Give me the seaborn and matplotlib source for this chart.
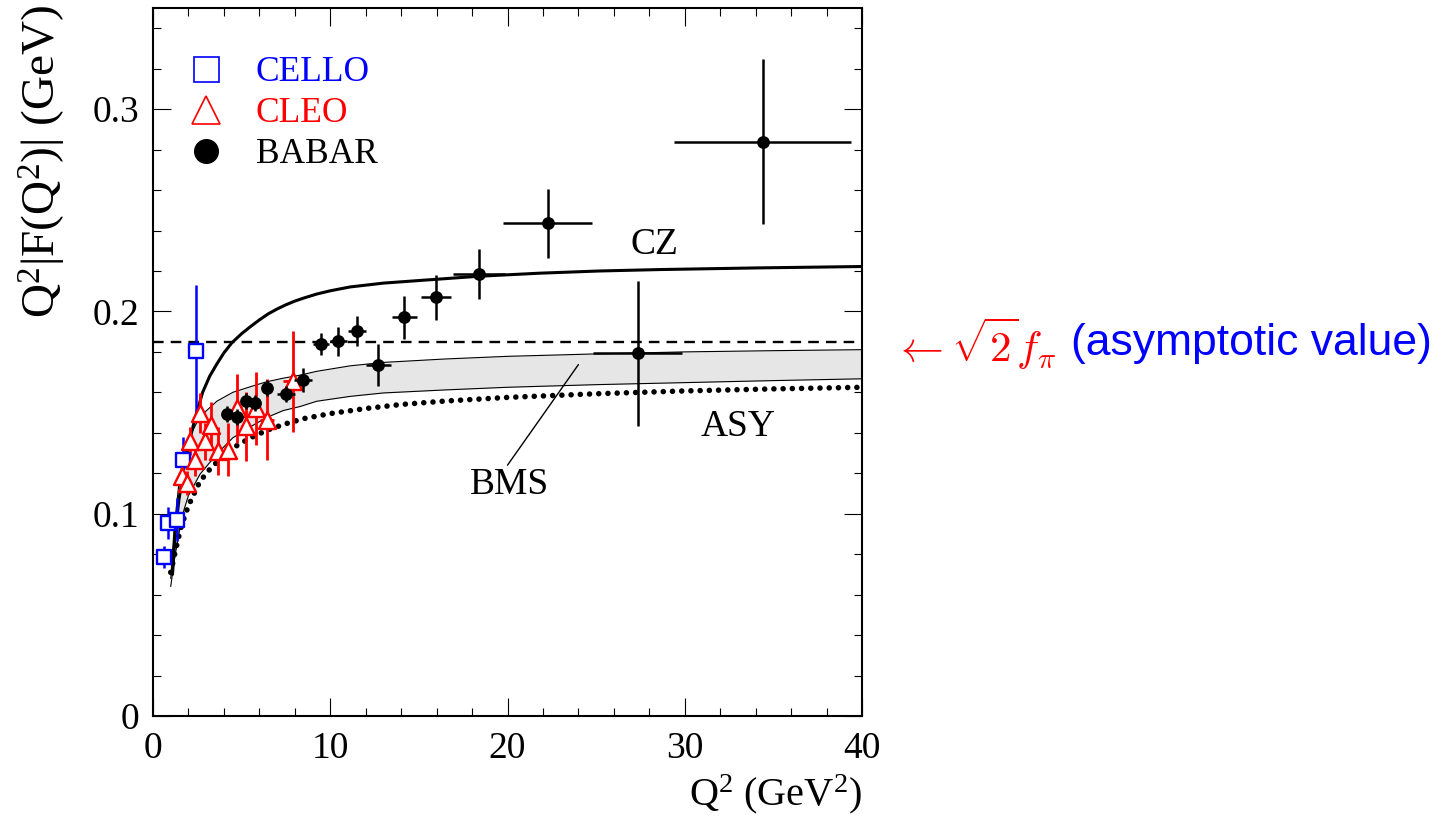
import matplotlib
matplotlib.use("Agg")
import numpy as np
import pandas as pd
import matplotlib.pyplot as plt
from matplotlib.lines import Line2D
from matplotlib.ticker import MultipleLocator
import seaborn as sns

# ---- measurements -------------------------------------------------------
cello_q2 = [0.62, 0.87, 1.34, 1.71, 2.41]
cello_f = [0.0785, 0.0955, 0.0971, 0.1268, 0.1806]
cello_err = [0.0054, 0.0078, 0.0107, 0.0110, 0.0325]

cleo_q2 = [1.62, 1.90, 2.09, 2.37, 2.65, 2.93, 3.27, 3.69, 4.25, 4.76, 5.23, 5.81, 6.45, 7.92]
cleo_f = [0.1185, 0.1152, 0.1358, 0.1267, 0.1498, 0.1358, 0.1440, 0.1309, 0.1317,
          0.1522, 0.1432, 0.1522, 0.1465, 0.1654]
cleo_err = [0.006, 0.006, 0.007, 0.008, 0.010, 0.009, 0.011, 0.012, 0.013,
            0.017, 0.017, 0.018, 0.020, 0.025]
cleo_xerr = [0.12, 0.12, 0.12, 0.12, 0.12, 0.12, 0.15, 0.2, 0.25, 0.25, 0.25, 0.25, 0.4, 0.6]

babar_q2 = [4.16, 4.76, 5.23, 5.76, 6.45, 7.49, 8.45, 9.48, 10.46, 11.50, 12.71, 14.18,
            15.95, 18.41, 22.27, 27.35, 34.39]
babar_f = [0.1493, 0.1480, 0.1559, 0.1547, 0.1622, 0.1590, 0.1660, 0.1839, 0.1852,
           0.1905, 0.1737, 0.1970, 0.2069, 0.2186, 0.2436, 0.1794, 0.2840]
babar_err = [0.004, 0.004, 0.004, 0.004, 0.004, 0.004, 0.006, 0.0055, 0.007, 0.0074,
             0.0104, 0.0107, 0.0109, 0.0124, 0.0170, 0.0358, 0.0410]
babar_xerr = [0.25, 0.25, 0.25, 0.25, 0.25, 0.5, 0.5, 0.45, 0.5, 0.5, 0.7, 0.7,
              0.85, 1.46, 2.5, 2.5, 5.0]

# ---- theory curves ------------------------------------------------------
cz_q2 = [1.1, 1.25, 1.45, 1.71, 2.0, 2.37, 2.8, 3.2, 3.6, 4.0, 4.44, 5.0, 5.5, 6.0,
         6.5, 7.0, 7.5, 8.0, 8.5, 9.24, 10.0, 11.12, 13.0, 14.9, 16.8, 18.4, 21.8,
         25.2, 28.6, 34.0, 40.0]
cz_f = [0.070, 0.090, 0.106, 0.121, 0.134, 0.147, 0.160, 0.168, 0.174, 0.1795,
        0.1844, 0.1890, 0.1925, 0.1958, 0.1988, 0.2012, 0.2033, 0.2051, 0.2066,
        0.2086, 0.2102, 0.2121, 0.2140, 0.2152, 0.2164, 0.2174, 0.2189, 0.2200,
        0.2207, 0.2215, 0.2222]

bms_q2 = [1.0, 1.2, 1.5, 1.75, 2.0, 2.65, 3.6, 4.5, 5.5, 6.4, 7.35, 8.3, 9.24, 11.12,
          13.0, 16.5, 20.0, 25.0, 30.0, 35.0, 40.0]
bms_upper = [0.068, 0.094, 0.118, 0.129, 0.137, 0.148, 0.1556, 0.160, 0.1628, 0.1652,
             0.1670, 0.1685, 0.1704, 0.1731, 0.1748, 0.1765, 0.1778, 0.1790, 0.1800,
             0.1806, 0.1811]
bms_lower = [0.064, 0.077, 0.092, 0.102, 0.109, 0.1195, 0.1295, 0.1375, 0.1430, 0.1475,
             0.1510, 0.1530, 0.1556, 0.1580, 0.1597, 0.1612, 0.1625, 0.1638, 0.1648,
             0.1658, 0.1667]

asy_q2 = [1.0, 1.3, 1.6, 2.0, 2.65, 3.3, 4.5, 5.5, 6.5, 7.5, 8.5, 10.0, 12.0, 14.0,
          16.5, 20.0, 25.0, 30.0, 35.0, 40.0]
asy_f = [0.071, 0.083, 0.094, 0.104, 0.116, 0.123, 0.1325, 0.1375, 0.1415, 0.1445,
         0.1470, 0.1495, 0.1520, 0.1540, 0.1557, 0.1575, 0.1593, 0.1607, 0.1617, 0.1625]

asymptotic_value = 0.185

x_ticks = [0, 10, 20, 30, 40]
x_tick_labels = ["0", "10", "20", "30", "40"]
y_ticks = [0.0, 0.1, 0.2, 0.3]
y_tick_labels = ["0", "0.1", "0.2", "0.3"]

# ---- style --------------------------------------------------------------
sns.set_theme(style="ticks")
plt.rcParams["font.family"] = ["Liberation Serif", "DejaVu Serif"]
plt.rcParams["mathtext.fontset"] = "custom"
plt.rcParams["mathtext.rm"] = "Liberation Serif"
plt.rcParams["mathtext.it"] = "Liberation Serif:italic"
plt.rcParams["axes.edgecolor"] = "black"
plt.rcParams["text.color"] = "black"
plt.rcParams["axes.labelcolor"] = "black"
plt.rcParams["xtick.color"] = "black"
plt.rcParams["ytick.color"] = "black"

W, H = 1444, 833
fig = plt.figure(figsize=(W / 100, H / 100), dpi=100)
fig.patch.set_facecolor("white")
ax = fig.add_axes([153 / W, 1 - 716 / H, (862 - 153) / W, (716 - 8) / H])
ax.set_facecolor("white")

# BMS band
ax.fill_between(bms_q2, bms_lower, bms_upper, color="#e6e6e6", lw=0, zorder=1)
sns.lineplot(x=bms_q2, y=bms_upper, ax=ax, color="black", linewidth=0.8,
             sort=False, estimator=None, zorder=2)
sns.lineplot(x=bms_q2, y=bms_lower, ax=ax, color="black", linewidth=0.8,
             sort=False, estimator=None, zorder=2)

# CZ and ASY
sns.lineplot(x=cz_q2, y=cz_f, ax=ax, color="black", linewidth=2.2,
             sort=False, estimator=None, zorder=3)
sns.lineplot(x=asy_q2, y=asy_f, ax=ax, color="black", linewidth=4.0,
             linestyle=(0, (0.01, 1.65)), dash_capstyle="round",
             sort=False, estimator=None, zorder=3)

ax.axhline(asymptotic_value, color="black", linewidth=1.7,
           linestyle=(0, (4.5, 3.0)), zorder=3)

# data: CELLO
ax.errorbar(cello_q2, cello_f, yerr=cello_err, fmt="none", ecolor="blue",
            elinewidth=1.8, capsize=0, zorder=5)
sns.scatterplot(x=cello_q2, y=cello_f, ax=ax, marker="s", s=105, color="white",
                edgecolor="blue", linewidth=1.7, zorder=6)

# data: CLEO
ax.errorbar(cleo_q2, cleo_f, yerr=cleo_err, xerr=cleo_xerr, fmt="none", ecolor="red",
            elinewidth=2.0, capsize=0, zorder=5)
sns.scatterplot(x=cleo_q2, y=cleo_f, ax=ax, marker="^", s=150, color="white",
                edgecolor="red", linewidth=1.7, zorder=6)

# data: BABAR
ax.errorbar(babar_q2, babar_f, yerr=babar_err, xerr=babar_xerr, fmt="none",
            ecolor="black", elinewidth=1.8, capsize=0, zorder=7)
sns.scatterplot(x=babar_q2, y=babar_f, ax=ax, marker="o", s=85, color="black",
                edgecolor="black", linewidth=0, zorder=8)

# curve labels
ax.text(28.3, 0.233, "CZ", fontsize=27, ha="center", va="center", zorder=9)
ax.text(33.0, 0.143, "ASY", fontsize=27, ha="center", va="center", zorder=9)
ax.text(20.1, 0.1144, "BMS", fontsize=27, ha="center", va="center", zorder=9)
ax.plot([20.0, 24.0], [0.124, 0.1737], color="black", linewidth=1.0, zorder=4)

# axes
ax.set_xlim(0, 40)
ax.set_ylim(0, 0.35)
ax.set_xticks(x_ticks)
ax.set_xticklabels(x_tick_labels)
ax.set_yticks(y_ticks)
ax.set_yticklabels(y_tick_labels)
ax.xaxis.set_minor_locator(MultipleLocator(2))
ax.yaxis.set_minor_locator(MultipleLocator(0.02))
ax.tick_params(which="both", direction="in", top=True, right=True,
               colors="black", width=0.8)
ax.tick_params(which="major", length=13, labelsize=27)
ax.tick_params(which="minor", length=6)
ax.tick_params(axis="x", which="major", pad=11)
ax.tick_params(axis="y", which="major", pad=10)
for sp in ax.spines.values():
    sp.set_visible(True)
    sp.set_linewidth(1.5)
    sp.set_color("black")

ax.set_xlabel(r"Q$^{\mathrm{2}}$ (GeV$^{\mathrm{2}}$)", fontsize=29, loc="right")
ax.xaxis.set_label_coords(1.0, -0.08)
ax.set_ylabel(r"Q$^{\mathrm{2}}$|F(Q$^{\mathrm{2}}$)| (GeV)", fontsize=34, loc="top")
ax.yaxis.set_label_coords(-0.12, 1.005)

# legend
handles = [
    Line2D([], [], linestyle="none", marker="s", markersize=18, markerfacecolor="white",
           markeredgecolor="blue", markeredgewidth=1.2),
    Line2D([], [], linestyle="none", marker="^", markersize=20, markerfacecolor="white",
           markeredgecolor="red", markeredgewidth=1.2),
    Line2D([], [], linestyle="none", marker="o", markersize=17, markerfacecolor="black",
           markeredgecolor="black"),
]
ax.legend(handles, ["CELLO", "CLEO", "BABAR"], loc="upper left",
          bbox_to_anchor=(0.0498, 0.932), frameon=False, fontsize=25.5,
          labelcolor=["blue", "red", "black"], handlelength=1.0, handletextpad=0.91,
          borderpad=0, borderaxespad=0, labelspacing=0.23)

# asymptotic value note beside the axes
fig.text(893 / W, 1 - 344 / H, r"$\leftarrow\sqrt{2}f_{\pi}$", color="red", fontsize=31,
         ha="left", va="center", math_fontfamily="cm")
fig.text(1071 / W, 1 - 344 / H, "(asymptotic value)", color="blue", fontsize=32,
         ha="left", va="center", family=["Liberation Sans", "DejaVu Sans"])

fig.savefig("out.png", dpi=100, facecolor="white")
